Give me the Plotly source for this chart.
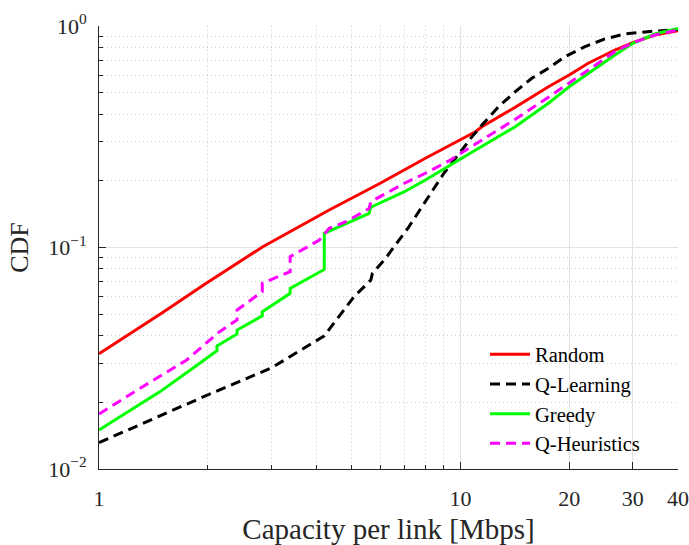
import plotly.graph_objects as go

# ---- data ----
rand_x = [1, 1.243, 1.504, 1.98, 2.50, 2.84, 4.335, 6.0, 8.0, 9.29, 11.0, 11.47, 14.18, 17.52, 20, 22.58, 26.76, 30, 34.5, 40]
rand_y = [0.0331, 0.0415, 0.0510, 0.0690, 0.0878, 0.1008, 0.1477, 0.195, 0.253, 0.287, 0.333, 0.351, 0.4295, 0.532, 0.601, 0.679, 0.779, 0.841, 0.911, 0.952]

ql_x = [1, 1.934, 3.0, 4.2, 5.08, 5.65, 5.71, 6.21, 7.2, 8.18, 9.0, 10.1, 10.76, 11.47, 12.75, 14.18, 15.76, 17.52, 19.48, 22.12, 25.1, 28.5, 33.0, 40]
ql_y = [0.01315, 0.0211, 0.0286, 0.0399, 0.060, 0.0713, 0.0765, 0.0894, 0.124, 0.1696, 0.2163, 0.2755, 0.316, 0.357, 0.432, 0.505, 0.581, 0.644, 0.727, 0.807, 0.874, 0.920, 0.943, 0.965]

gr_x = [1, 1.473, 1.90, 2.12, 2.12, 2.41, 2.41, 2.83, 2.83, 3.38, 3.38, 4.20, 4.20, 4.62, 5.59, 5.65, 7.0, 8.0, 9.29, 11.2, 14.18, 17.52, 20, 22.58, 26.76, 30, 34.5, 40]
gr_y = [0.0150, 0.0223, 0.0300, 0.0342, 0.0359, 0.0407, 0.0424, 0.0491, 0.0513, 0.0621, 0.0654, 0.0796, 0.1159, 0.124, 0.1427, 0.152, 0.1786, 0.2017, 0.234, 0.280, 0.351, 0.448, 0.532, 0.611, 0.740, 0.835, 0.920, 0.976]

qh_x = [1, 1.297, 1.745, 2.156, 2.41, 2.41, 2.83, 2.83, 3.38, 3.38, 4.07, 4.335, 4.82, 5.59, 5.65, 7.0, 8.0, 9.29, 10.54, 11.47, 14.18, 17.52, 20, 22.58, 26.76, 30, 34.5, 40]
qh_y = [0.0177, 0.0231, 0.0310, 0.0417, 0.0471, 0.0522, 0.0632, 0.0689, 0.0778, 0.0909, 0.108, 0.122, 0.1307, 0.150, 0.161, 0.195, 0.2163, 0.246, 0.2805, 0.3056, 0.379, 0.477, 0.551, 0.633, 0.766, 0.841, 0.911, 0.960]

x_ticks = [1, 10, 20, 30, 40]
x_minor = [2, 3, 4, 5, 6, 7, 8, 9]
y_ticks = [0.01, 0.1, 1]
y_ticktext = ["10<sup>−2</sup>", "10<sup>−1</sup>", "10<sup>0</sup>"]
y_minor = [0.02, 0.03, 0.04, 0.05, 0.06, 0.07, 0.08, 0.09, 0.2, 0.3, 0.4, 0.5, 0.6, 0.7, 0.8, 0.9]

FONT = "Liberation Serif"
AX = "#262626"

fig = go.Figure()
fig.add_trace(go.Scatter(x=rand_x, y=rand_y, mode="lines", name="Random",
                         line=dict(color="#ff0000", width=3)))
fig.add_trace(go.Scatter(x=ql_x, y=ql_y, mode="lines", name="Q-Learning",
                         line=dict(color="#000000", width=3, dash="10px,6px")))
fig.add_trace(go.Scatter(x=gr_x, y=gr_y, mode="lines", name="Greedy",
                         line=dict(color="#00ff00", width=3)))
fig.add_trace(go.Scatter(x=qh_x, y=qh_y, mode="lines", name="Q-Heuristics",
                         line=dict(color="#ff00ff", width=3, dash="10px,6px")))

fig.update_layout(
    width=689, height=545,
    margin=dict(l=99, r=11, t=26, b=76),
    paper_bgcolor="white", plot_bgcolor="white",
    font=dict(family=FONT, size=22, color=AX),
    showlegend=True,
    legend=dict(x=0.6667, y=0.3036, xanchor="left", yanchor="top",
                bgcolor="rgba(0,0,0,0)", borderwidth=0,
                font=dict(family=FONT, size=20.5, color="#000000"),
                tracegroupgap=0, itemwidth=40),
)
fig.update_xaxes(
    type="log", range=[0, 1.60206], automargin=False,
    tickmode="array", tickvals=x_ticks, ticktext=[str(v) for v in x_ticks],
    ticks="inside", ticklen=7, tickwidth=1, tickcolor=AX,
    showline=True, linecolor=AX, linewidth=1,
    showgrid=True, gridcolor="#e2e2e2", gridwidth=1,
    zeroline=False,
    tickfont=dict(family=FONT, size=22, color=AX),
    ticklabelstandoff=10, ticklabeloverflow="allow",
    minor=dict(tickmode="array", tickvals=x_minor, ticks="inside", ticklen=4,
               tickcolor=AX, showgrid=True, gridcolor="#cfcfcf",
               griddash="1px,3px", gridwidth=1),
    title=dict(text="Capacity per link [Mbps]", font=dict(family=FONT, size=29, color=AX),
               standoff=13),
)
fig.update_yaxes(
    type="log", range=[-2, 0], automargin=False,
    tickmode="array", tickvals=y_ticks, ticktext=y_ticktext,
    ticks="inside", ticklen=7, tickwidth=1, tickcolor=AX,
    showline=True, linecolor=AX, linewidth=1,
    showgrid=True, gridcolor="#e2e2e2", gridwidth=1,
    zeroline=False,
    tickfont=dict(family=FONT, size=22, color=AX),
    ticklabelstandoff=7, ticklabeloverflow="allow",
    minor=dict(tickmode="array", tickvals=y_minor, ticks="inside", ticklen=4,
               tickcolor=AX, showgrid=True, gridcolor="#cfcfcf",
               griddash="1px,3px", gridwidth=1),
    title=dict(text="CDF", font=dict(family=FONT, size=26, color=AX), standoff=12),
)

fig.write_html("out.html")
